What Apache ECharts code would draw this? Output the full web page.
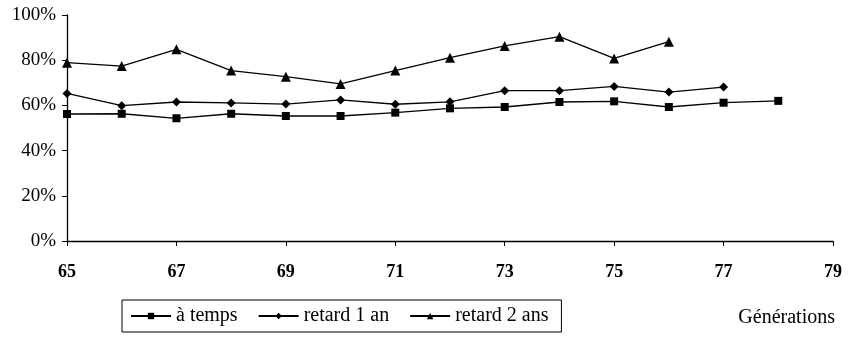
<!DOCTYPE html>
<html>
<head>
<meta charset="utf-8">
<script src="https://cdn.jsdelivr.net/npm/echarts@6/dist/echarts.min.js"></script>
<style>
  html, body { margin: 0; padding: 0; background: #fff; }
  #main { width: 853px; height: 339px; }
</style>
</head>
<body>
<div id="main"></div>
<script>
// generations (x) and the three series, in percent
var generations = [65, 66, 67, 68, 69, 70, 71, 72, 73, 74, 75, 76, 77, 78];
var aTemps   = [56.2, 56.3, 54.3, 56.3, 55.3, 55.3, 56.8, 58.7, 59.3, 61.5, 61.8, 59.3, 61.2, 62.0];
var retard1  = [65.3, 59.9, 61.5, 61.1, 60.6, 62.4, 60.5, 61.6, 66.5, 66.5, 68.4, 65.9, 68.1];
var retard2  = [78.9, 77.4, 84.8, 75.4, 72.7, 69.5, 75.4, 81.1, 86.3, 90.4, 80.8, 88.2];
var seriesNames = ["à temps", "retard 1 an", "retard 2 ans"];
var xTicks = [65, 67, 69, 71, 73, 75, 77, 79];

var FONT = "Liberation Serif";

function pairs(vals) {
	var out = [];
	for (var i = 0; i < vals.length; i++) {
		out.push([generations[i], vals[i]]);
	}
	return out;
}

function lineSeries(name, vals, symbol, size) {
	return {
		name: name,
		type: "line",
		data: pairs(vals),
		symbol: symbol,
		symbolSize: size,
		showAllSymbol: true,
		lineStyle: { color: "#000", width: 1.3 },
		itemStyle: { color: "#000" },
		animation: false
	};
}

var chart = echarts.init(document.getElementById("main"));

chart.setOption({
	backgroundColor: "#fff",
	animation: false,
	grid: { left: 67, right: 20, top: 15, bottom: 98, containLabel: false },
	xAxis: {
		type: "value",
		min: xTicks[0],
		max: xTicks[xTicks.length - 1],
		interval: 2,
		axisLine: { lineStyle: { color: "#000", width: 1.3 } },
		axisTick: { show: true, length: 5, lineStyle: { color: "#000" } },
		splitLine: { show: false },
		axisLabel: { color: "#000", fontFamily: FONT, fontSize: 18, fontWeight: "bold", margin: 22 }
	},
	yAxis: {
		type: "value",
		min: 0,
		max: 100,
		interval: 20,
		axisLine: { show: true, lineStyle: { color: "#000", width: 1.3 } },
		axisTick: { show: true, length: 5, lineStyle: { color: "#000" } },
		splitLine: { show: false },
		axisLabel: { color: "#000", fontFamily: FONT, fontSize: 19, margin: 11, formatter: "{value}%" }
	},
	legend: {
		left: 122,
		top: 300,
		padding: [6, 13, 6, 8],
		borderColor: "#000",
		borderWidth: 1,
		borderRadius: 0,
		itemGap: 20,
		itemWidth: 40,
		itemHeight: 8,
		textStyle: { color: "#000", fontFamily: FONT, fontSize: 20 },
		data: seriesNames
	},
	graphic: [{
		type: "text",
		right: 18,
		top: 308,
		style: { text: "Générations", fill: "#000", font: "20px " + FONT }
	}],
	series: [
		lineSeries(seriesNames[0], aTemps, "rect", 8),
		lineSeries(seriesNames[1], retard1, "diamond", 9),
		lineSeries(seriesNames[2], retard2, "triangle", 10)
	]
});
</script>
</body>
</html>
